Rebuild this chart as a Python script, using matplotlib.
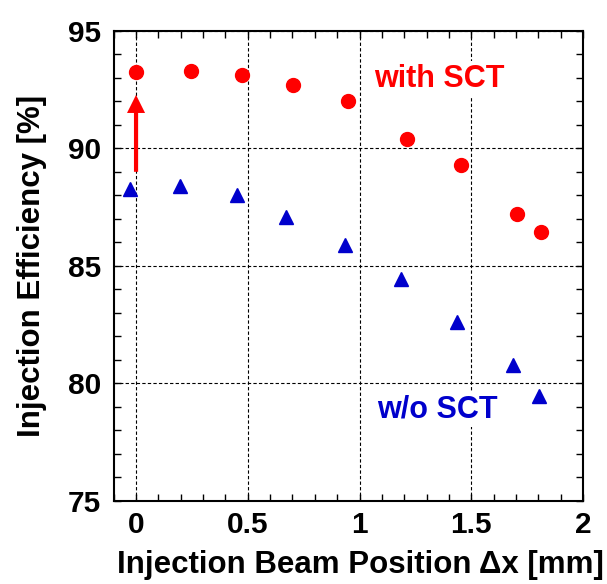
import numpy as np
import matplotlib
matplotlib.use('Agg')
import matplotlib.pyplot as plt
from matplotlib.ticker import MultipleLocator

plt.rcParams['font.family'] = ['Liberation Sans', 'DejaVu Sans']
plt.rcParams['font.weight'] = 'bold'

# data
x_with = [0.0, 0.244, 0.476, 0.704, 0.95, 1.214, 1.454, 1.704, 1.814]
y_with = [93.26, 93.30, 93.13, 92.68, 92.03, 90.41, 89.27, 87.21, 86.42]

x_wo = [-0.027, 0.196, 0.452, 0.673, 0.934, 1.186, 1.436, 1.686, 1.802]
y_wo = [88.28, 88.40, 88.00, 87.07, 85.87, 84.45, 82.61, 80.80, 79.47]

arrow_x = 0.0
arrow_from = 89.0
arrow_to = 92.27

RED = '#FF0000'
BLUE = '#0000CC'

fig = plt.figure(figsize=(6.07, 5.84), dpi=100)
ax = fig.add_axes([0.1873, 0.1421, 0.7732, 0.8053])

ax.plot(x_with, y_with, 'o', color=RED, ms=10, mec=RED, zorder=4)
ax.plot(x_wo, y_wo, '^', color=BLUE, ms=10, mec=BLUE, zorder=4)

# red arrow showing the gain with SCT
ax.annotate('', xy=(arrow_x, arrow_to), xytext=(arrow_x, arrow_from),
            arrowprops=dict(arrowstyle='simple,head_width=1.3,head_length=1.3,tail_width=0.3',
                            fc=RED, ec='none', mutation_scale=10,
                            shrinkA=0, shrinkB=0), zorder=3)

ax.text(1.067, 92.62, 'with SCT', color=RED, fontsize=22, fontweight='bold',
        va='baseline', zorder=3,
        bbox=dict(facecolor='white', edgecolor='none', pad=2))
ax.text(1.08, 78.56, 'w/o SCT', color=BLUE, fontsize=22, fontweight='bold',
        va='baseline', zorder=3,
        bbox=dict(facecolor='white', edgecolor='none', pad=2))

ax.set_xlim(-0.1, 2)
ax.set_ylim(75, 95)
ax.xaxis.set_major_locator(MultipleLocator(0.5))
ax.xaxis.set_minor_locator(MultipleLocator(0.1))
ax.yaxis.set_major_locator(MultipleLocator(5))
ax.yaxis.set_minor_locator(MultipleLocator(1))
ax.xaxis.set_major_formatter(plt.FuncFormatter(lambda v, p: f'{v:g}'))

ax.tick_params(which='both', direction='in', top=True, right=True,
               length=5, width=1, labelsize=21.5)
ax.tick_params(axis='x', pad=7)
ax.tick_params(axis='y', pad=9)

ax.grid(True, which='major', color='black', lw=0.8, ls=(0, (3, 2)))
for sp in ax.spines.values():
    sp.set_linewidth(1.5)

ax.set_xlabel('Injection Beam Position \u0394x [mm]', fontsize=22.5,
              fontweight='bold')
ax.xaxis.set_label_coords(0.526, -0.105)
ax.set_ylabel('Injection Efficiency [%]', fontsize=22.5, fontweight='bold',
              labelpad=15)

fig.savefig('out.png', dpi=100)
